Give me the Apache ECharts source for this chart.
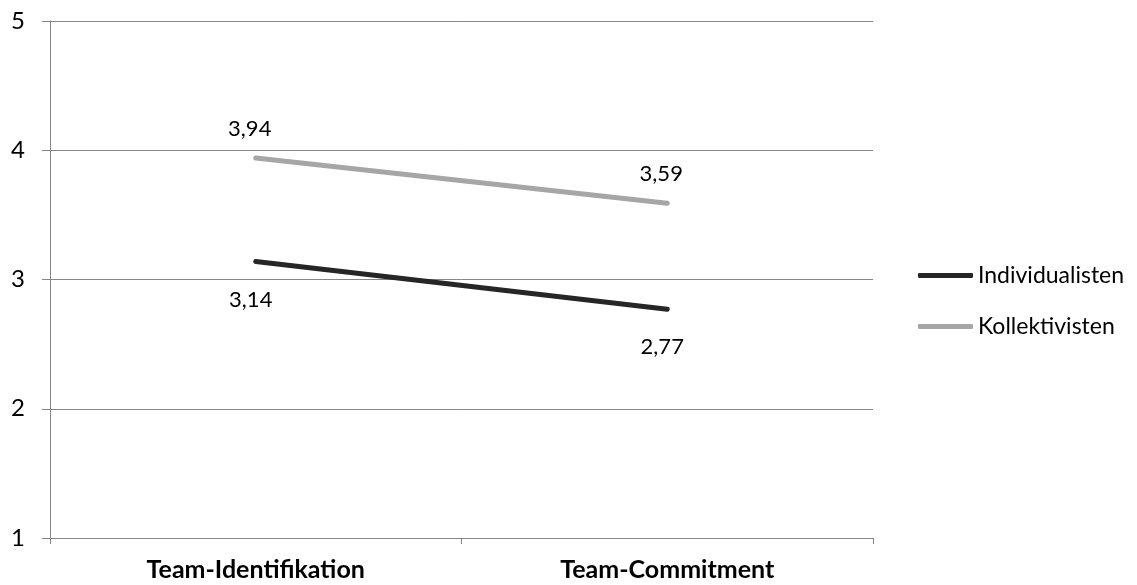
<!DOCTYPE html>
<html>
<head>
<meta charset="utf-8">
<script src="https://cdn.jsdelivr.net/npm/echarts@6/dist/echarts.min.js"></script>
<style>
  html, body { margin: 0; padding: 0; background: #fff; }
  #chart { width: 1137px; height: 585px; }
</style>
</head>
<body>
<div id="chart"></div>
<script>
// Categories and mean scores per group
var categories = ['Team-Identifikation', 'Team-Commitment'];
var individualisten = [3.14, 2.77];
var kollektivisten = [3.94, 3.59];
var seriesNames = ['Individualisten', 'Kollektivisten'];

var FONT = 'Lato, "Open Sans", sans-serif';
var gridColor = '#868686';

// German decimal comma
function fmt(p) {
  return Number(p.value).toFixed(2).replace('.', ',');
}

var chart = echarts.init(document.getElementById('chart'), null, { renderer: 'canvas' });
chart.setOption({
  animation: false,
  backgroundColor: '#ffffff',
  textStyle: { fontFamily: FONT },
  grid: { left: 50, right: 264, top: 21, bottom: 47, containLabel: false },
  legend: {
    orient: 'vertical',
    left: 913,
    top: 259,
    icon: 'roundRect',
    itemWidth: 55,
    itemHeight: 5,
    itemGap: 28,
    textStyle: { fontFamily: FONT, fontSize: 23, color: '#000' },
    data: seriesNames
  },
  xAxis: {
    type: 'category',
    data: categories,
    boundaryGap: true,
    axisLine: { lineStyle: { color: gridColor, width: 1 } },
    axisTick: { show: true, length: 6, lineStyle: { color: gridColor } },
    axisLabel: { fontFamily: FONT, fontSize: 25, fontWeight: 'bold', color: '#000', margin: 19 }
  },
  yAxis: {
    type: 'value',
    min: 1,
    max: 5,
    interval: 1,
    axisLine: { show: true, lineStyle: { color: gridColor, width: 1 } },
    axisTick: { show: true, inside: false, length: 8, lineStyle: { color: gridColor } },
    splitLine: { show: true, lineStyle: { color: gridColor, width: 1 } },
    axisLabel: { fontFamily: FONT, fontSize: 24, color: '#000', margin: 25 }
  },
  series: [
    {
      name: seriesNames[0],
      type: 'line',
      data: individualisten,
      symbol: 'circle',
      symbolSize: 0.1,
      showSymbol: true,
      lineStyle: { color: '#262626', width: 5, cap: 'round' },
      itemStyle: { color: '#262626' },
      label: {
        show: true,
        position: 'bottom',
        distance: 27,
        offset: [-5, 0],
        formatter: fmt,
        fontFamily: FONT,
        fontSize: 22,
        color: '#000'
      }
    },
    {
      name: seriesNames[1],
      type: 'line',
      data: kollektivisten,
      symbol: 'circle',
      symbolSize: 0.1,
      showSymbol: true,
      lineStyle: { color: '#a6a6a6', width: 5, cap: 'round' },
      itemStyle: { color: '#a6a6a6' },
      label: {
        show: true,
        position: 'top',
        distance: 18,
        offset: [-6, 0],
        formatter: fmt,
        fontFamily: FONT,
        fontSize: 22,
        color: '#000'
      }
    }
  ]
});
</script>
</body>
</html>
